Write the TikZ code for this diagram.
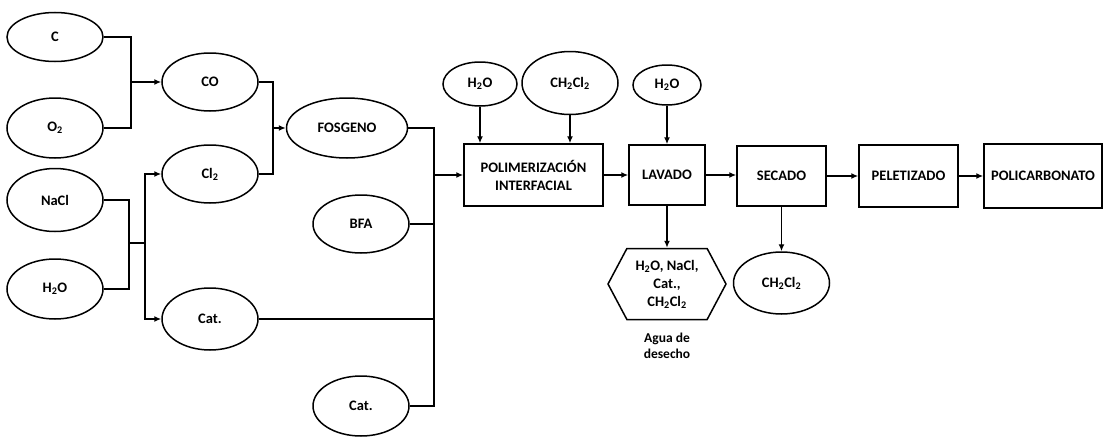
\documentclass[tikz,border=0pt]{standalone}
\usepackage{fontspec}
\setmainfont{Carlito}
\usetikzlibrary{arrows.meta,shapes.geometric,shapes.symbols}
\begin{document}
\begin{tikzpicture}[
  x=1pt, y=-1pt,
  line width=1.5pt,
  font=\bfseries\fontsize{14.5}{18}\selectfont,
  >={Latex[length=7pt,width=6pt]},
  feed/.style={draw,ellipse,inner sep=0pt,
    minimum width=96pt,minimum height=60pt,align=center},
  unit/.style={draw,rectangle,inner sep=2pt,align=center},
  waste/.style={draw,signal,signal to=east and west,signal pointer angle=124,
    inner sep=0pt,minimum width=118pt,minimum height=71pt,align=center},
  note/.style={font=\bfseries\fontsize{13.5}{16}\selectfont,align=center}]
\useasboundingbox (0,0) rectangle (1105,439);
% materias primas
\node[feed,minimum height=49pt] (c) at (55,37) {C};
\node[feed] (o2) at (55,128) {O\textsubscript{2}};
\node[feed,minimum height=63pt] (nacl) at (55,200) {NaCl};
\node[feed] (agua) at (55,289) {H\textsubscript{2}O};
\node[feed,minimum height=58pt] (co) at (210,82) {CO};
\node[feed,minimum height=58pt] (cl) at (210,174) {Cl\textsubscript{2}};
\node[feed,minimum height=62pt] (cat1) at (210,319) {Cat.};
\node[feed,minimum width=121pt] (fos) at (347,128) {FOSGENO};
\node[feed,minimum height=58pt] (bfa) at (361,224) {BFA};
\node[feed] (cat2) at (361,406) {Cat.};
% etapas del proceso
\node[unit,minimum width=139pt,minimum height=62pt] (poli) at (533.5,175) {POLIMERIZACIÓN\\INTERFACIAL};
\node[unit,minimum width=76pt,minimum height=60pt] (lav) at (667,175) {LAVADO};
\node[unit,minimum width=89pt,minimum height=60pt] (sec) at (781.5,176) {SECADO};
\node[unit,minimum width=99pt,minimum height=62pt] (pel) at (908.5,176) {PELETIZADO};
\node[unit,minimum width=118pt,minimum height=64pt] (pc) at (1043,176) {POLICARBONATO};
% entradas y salidas
\node[feed,minimum width=74pt,minimum height=44pt] (w1) at (480,84) {H\textsubscript{2}O};
\node[feed,minimum height=63pt] (dcm1) at (570,83) {CH\textsubscript{2}Cl\textsubscript{2}};
\node[feed,minimum width=68pt,minimum height=40pt] (w2) at (667,85) {H\textsubscript{2}O};
\node[waste] (res) at (667,284) {H\textsubscript{2}O, NaCl,\\Cat.,\\CH\textsubscript{2}Cl\textsubscript{2}};
\node[note] (resl) at (667,346) {Agua de\\desecho};
\node[feed,minimum height=62pt] (dcm2) at (781.5,283) {CH\textsubscript{2}Cl\textsubscript{2}};
% conexiones
\coordinate (j1) at (131,82);
\coordinate (j2) at (273,128);
\coordinate (j3) at (129,243);
\coordinate (j4) at (145,243);
\coordinate (j5) at (434,175);
\draw (c.east) -| (j1) |- (o2.east);
\draw[->] (j1) -- (co.west);
\draw (co.east) -| (j2) |- (cl.east);
\draw[->] (j2) -- (fos.west);
\draw (nacl.east) -| (j3) |- (agua.east);
\draw (j3) -- (j4);
\draw[->] (j4) |- (cl.west);
\draw[->] (j4) |- (cat1.west);
\draw (fos.east) -| (j5);
\draw (cat2.east) -| (j5);
\draw (bfa.east) -- (bfa.east -| j5);
\draw (cat1.east) -- (cat1.east -| j5);
\draw[->] (j5) -- (poli.west);
\draw[->] (w1.south) -- (w1.south |- poli.north);
\draw[->] (dcm1.south) -- (dcm1.south |- poli.north);
\draw[->] (w2.south) -- (lav.north);
\draw[->] (poli.east) -- (lav.west);
\draw[->] (lav.east) -- (lav.east -| sec.west);
\draw[->] (lav.south) -- (res.north);
\draw[->] (sec.south) -- (dcm2.north);
\draw[->] (sec.east) -- (pel.west);
\draw[->] (pel.east) -- (pc.west);
\end{tikzpicture}
\end{document}
